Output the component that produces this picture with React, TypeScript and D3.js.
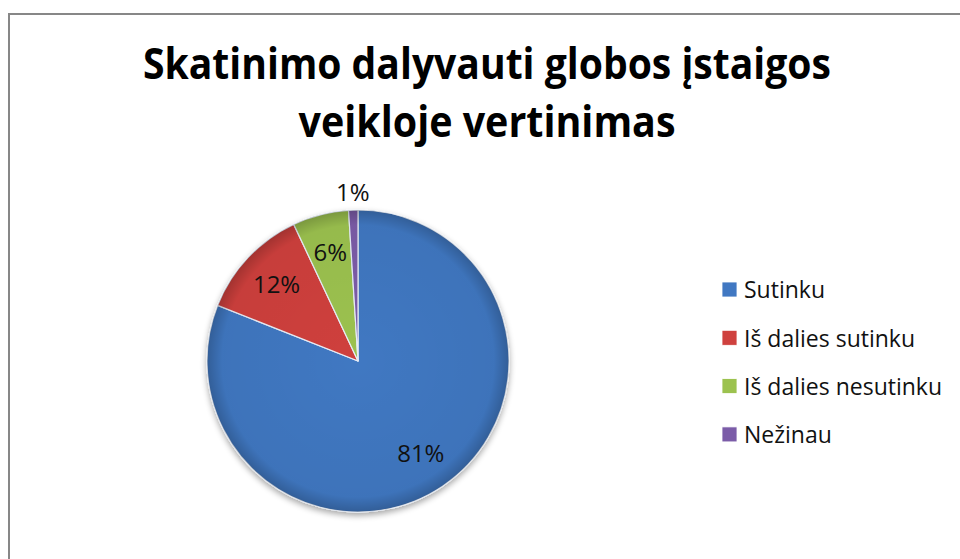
import React, { useEffect, useRef } from 'react';
import * as d3 from 'd3';

// Chart data
const titleLines = ['Skatinimo dalyvauti globos įstaigos', 'veikloje vertinimas'];
const categories = ['Sutinku', 'Iš dalies sutinku', 'Iš dalies nesutinku', 'Nežinau'];
const values = [81, 12, 6, 1];
const colors = ['#4178c2', '#cf413e', '#9cc24f', '#7b5ca8'];

const WIDTH = 960;
const HEIGHT = 559;

/* Draws the pie chart */
function PieChart() {
    const svgRef = useRef<SVGSVGElement>(null);

    useEffect(() => {
        const svg = d3.select(svgRef.current)
            .attr('width', WIDTH)
            .attr('height', HEIGHT);

        svg.selectAll('*').remove();

        const defs = svg.append('defs');

        // soft shadow under the pie
        const shadow = defs.append('filter')
            .attr('id', 'pieShadow')
            .attr('x', '-20%').attr('y', '-20%')
            .attr('width', '140%').attr('height', '140%');
        shadow.append('feGaussianBlur')
            .attr('in', 'SourceAlpha')
            .attr('stdDeviation', 3);
        shadow.append('feOffset').attr('dx', 0).attr('dy', 3).attr('result', 'blur');
        shadow.append('feComponentTransfer')
            .append('feFuncA').attr('type', 'linear').attr('slope', 0.35);
        const merge = shadow.append('feMerge');
        merge.append('feMergeNode');
        merge.append('feMergeNode').attr('in', 'SourceGraphic');

        // slight darkening towards the rim
        const rim = defs.append('radialGradient')
            .attr('id', 'rimShade')
            .attr('cx', '50%').attr('cy', '50%').attr('r', '50%');
        rim.append('stop').attr('offset', '0%').attr('stop-color', '#000').attr('stop-opacity', 0);
        rim.append('stop').attr('offset', '90%').attr('stop-color', '#000').attr('stop-opacity', 0.04);
        rim.append('stop').attr('offset', '100%').attr('stop-color', '#000').attr('stop-opacity', 0.22);

        // Outer chart border (runs off the page on the right and bottom)
        svg.append('rect')
            .attr('x', 9)
            .attr('y', 14)
            .attr('width', 1000)
            .attr('height', 600)
            .style('fill', '#ffffff')
            .style('stroke', '#878787')
            .style('stroke-width', 2);

        // Title
        const titleX = 487;
        svg.selectAll('.title')
            .data(titleLines)
            .enter()
            .append('text')
            .attr('class', 'title')
            .attr('x', titleX)
            .attr('y', (_, i) => 79 + i * 58)
            .attr('text-anchor', 'middle')
            .attr('textLength', (_, i) => (i === 0 ? 688 : 377))
            .attr('lengthAdjust', 'spacingAndGlyphs')
            .style('font-family', "'Open Sans', sans-serif")
            .style('font-weight', 700)
            .style('font-size', '43px')
            .style('fill', '#000000')
            .text((d) => d);

        // Pie
        const cx = 358;
        const cy = 361;
        const radius = 151;

        const pieGenerator = d3.pie<number>()
            .sort(null)
            .value((d) => d);
        const arcs = pieGenerator(values);

        const arcGenerator = d3.arc<d3.PieArcDatum<number>>()
            .innerRadius(0)
            .outerRadius(radius);

        const g = svg.append('g')
            .attr('transform', `translate(${cx}, ${cy})`);

        const slices = g.append('g').attr('filter', 'url(#pieShadow)');
        slices.selectAll('path')
            .data(arcs)
            .enter()
            .append('path')
            .attr('d', arcGenerator)
            .style('fill', (_, i) => colors[i])
            .style('stroke', '#e8eef7')
            .style('stroke-width', 1.2)
            .style('stroke-linejoin', 'round');

        g.append('circle')
            .attr('r', radius)
            .style('fill', 'url(#rimShade)')
            .style('pointer-events', 'none');

        // Percentage labels
        const inside = d3.arc<d3.PieArcDatum<number>>()
            .innerRadius(radius * 0.74)
            .outerRadius(radius * 0.74);
        const outside = d3.arc<d3.PieArcDatum<number>>()
            .innerRadius(radius * 1.12)
            .outerRadius(radius * 1.12);

        g.selectAll('.lbl')
            .data(arcs)
            .enter()
            .append('text')
            .attr('class', 'lbl')
            .attr('text-anchor', 'middle')
            .attr('dy', '0.36em')
            .attr('transform', (d) => {
                const [x, y] = d.data < 3 ? outside.centroid(d) : inside.centroid(d);
                return `translate(${x}, ${y})`;
            })
            .style('font-family', "'Open Sans', sans-serif")
            .style('font-size', '24px')
            .style('fill', '#111111')
            .text((d) => `${d.data}%`);

        // Legend
        const legend = svg.append('g')
            .attr('transform', 'translate(722, 290)');
        const item = legend.selectAll('.item')
            .data(categories)
            .enter()
            .append('g')
            .attr('class', 'item')
            .attr('transform', (_, i) => `translate(0, ${i * 48.3})`);
        item.append('rect')
            .attr('x', 0)
            .attr('y', -8)
            .attr('width', 15)
            .attr('height', 15)
            .style('fill', (_, i) => colors[i])
            .style('stroke', '#ffffff')
            .style('stroke-width', 0.8);
        item.append('text')
            .attr('x', 22)
            .attr('y', 0)
            .attr('dy', '0.36em')
            .style('font-family', "'Open Sans', sans-serif")
            .style('font-size', '23px')
            .style('fill', '#111111')
            .text((d) => d);
    }, []);

    return (
        <svg ref={svgRef} style={{ position: 'absolute', left: 0, top: 0, display: 'block' }}></svg>
    );
}

export default function App() {
    return <PieChart />;
}
